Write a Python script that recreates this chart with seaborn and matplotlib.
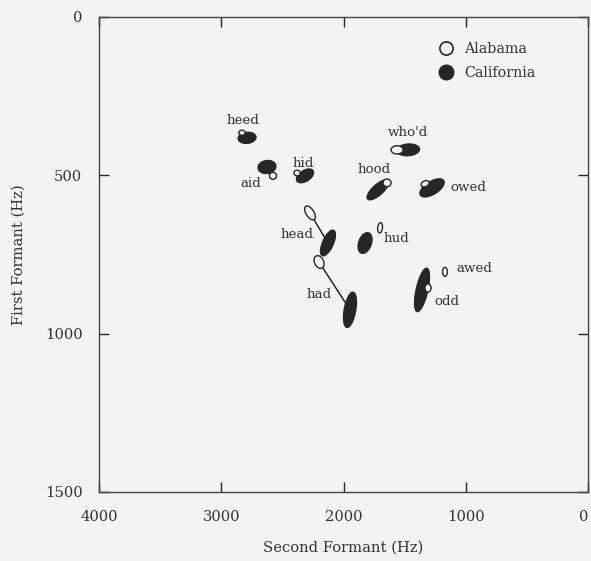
import numpy as np
import pandas as pd
import seaborn as sns
import matplotlib.pyplot as plt
from matplotlib.lines import Line2D

# vowel means (Hz), with spread (sd) and F2/F1 correlation
vowels = ["heed", "aid", "hid", "head", "had", "who'd", "hood", "owed", "hud", "awed", "odd"]

ala_f2 = [2830, 2577, 2380, 2274, 2200, 1562, 1644, 1333, 1701, 1170, 1309]
ala_f1 = [366, 502, 493, 619, 774, 420, 524, 527, 666, 805, 856]
ala_sd2 = [25, 29, 25, 44, 41, 49, 33, 33, 20, 20, 25]
ala_sd1 = [8, 11, 9, 22, 20, 13, 12, 10, 16, 14, 13]
ala_rho = [0, 0, 0, -0.56, -0.3, 0, 0, 0.3, 0.2, 0, 0]

cal_f2 = [2789, 2626, 2315, 2127, 1947, 1472, 1718, 1276, 1824, np.nan, 1358]
cal_f1 = [382, 474, 502, 714, 925, 420, 546, 540, 714, np.nan, 862]
cal_sd2 = [74, 74, 71, 62, 54, 94, 90, 100, 58, np.nan, 62]
cal_sd1 = [18, 21, 22, 41, 56, 19, 32, 29, 33, np.nan, 69]
cal_rho = [0.1, 0.1, 0.47, 0.63, 0.43, 0.1, 0.74, 0.59, 0.33, np.nan, 0.6]

linked = ["head", "had"]

x_ticks = [4000, 3000, 2000, 1000, 0]
y_ticks = [0, 500, 1000, 1500]

# label offsets (pixels) from the Alabama mean
label_off = [(1, 12), (-22, -8), (6, 10), (-13, -22), (0, -32), (11, 17),
             (-13, 13), (43, -4), (16, -11), (29, 3), (19, -14)]

bg = "#f4f4f2"
ink = "#262626"
txt = "#333333"

sns.set_style("ticks")
plt.rcParams['font.family'] = ['DejaVu Serif']

fig = plt.figure(figsize=(5.91, 5.61), dpi=100, facecolor=bg)
ax = fig.add_axes([0.1675, 0.123, 0.8275, 0.847])
ax.set_facecolor(bg)


def ellipse(f2, f1, s2, s1, r, n=80):
    t = np.linspace(0, 2 * np.pi, n)
    cov = np.array([[s2 ** 2, r * s2 * s1], [r * s2 * s1, s1 ** 2]])
    L = np.linalg.cholesky(cov)
    xy = L @ np.vstack([np.cos(t), np.sin(t)])
    return f2 + xy[0], f1 + xy[1]


# lines joining the two dialects for head / had
rows = []
for i, v in enumerate(vowels):
    if v in linked:
        rows.append({"vowel": v, "F2": ala_f2[i], "F1": ala_f1[i]})
        rows.append({"vowel": v, "F2": cal_f2[i], "F1": cal_f1[i]})
links = pd.DataFrame(rows)
sns.lineplot(data=links, x="F2", y="F1", units="vowel", estimator=None,
             color=ink, lw=1.1, sort=False, ax=ax, zorder=1)

# California (filled)
for i in range(len(vowels)):
    if np.isnan(cal_f2[i]):
        continue
    ex, ey = ellipse(cal_f2[i], cal_f1[i], cal_sd2[i], cal_sd1[i], cal_rho[i])
    ax.fill(ex, ey, facecolor=ink, edgecolor=ink, lw=0.8, zorder=2)

# Alabama (open)
for i in range(len(vowels)):
    ex, ey = ellipse(ala_f2[i], ala_f1[i], ala_sd2[i], ala_sd1[i], ala_rho[i])
    ax.fill(ex, ey, facecolor=bg, edgecolor=ink, lw=1.0, zorder=3)

for i, v in enumerate(vowels):
    ax.annotate(v, (ala_f2[i], ala_f1[i]), xytext=label_off[i],
                textcoords="offset pixels", ha="center", va="center",
                fontsize=9.6, color=txt, zorder=4)

ax.set_xlim(4000, 0)
ax.set_ylim(1500, 0)
ax.set_xticks(x_ticks)
ax.set_yticks(y_ticks)
ax.tick_params(direction="in", top=True, right=True, length=7, width=1,
               color=ink, labelcolor=txt, labelsize=10.6)
ax.tick_params(axis="x", pad=13)
ax.tick_params(axis="y", pad=12)
ax.get_xticklabels()[-1].set_ha("right")
for s in ax.spines.values():
    s.set_color("#444444")
    s.set_linewidth(1.0)

ax.set_xlabel("Second Formant (Hz)", fontsize=10.6, color=txt, labelpad=12)
ax.set_ylabel("First Formant (Hz)", fontsize=10.6, color=txt, labelpad=14)

handles = [
    Line2D([], [], ls="none", marker="o", ms=9.5, mfc=bg, mec=ink, mew=1.2),
    Line2D([], [], ls="none", marker="o", ms=10.5, mfc=ink, mec=ink),
]
leg = ax.legend(handles, ["Alabama", "California"], loc="upper left",
                bbox_to_anchor=(0.668, 0.975), frameon=False, handlelength=1.0,
                handletextpad=0.8, labelspacing=0.75, fontsize=10.3)
for t in leg.get_texts():
    t.set_color(txt)

fig.savefig("out.png", dpi=100, facecolor=bg)
